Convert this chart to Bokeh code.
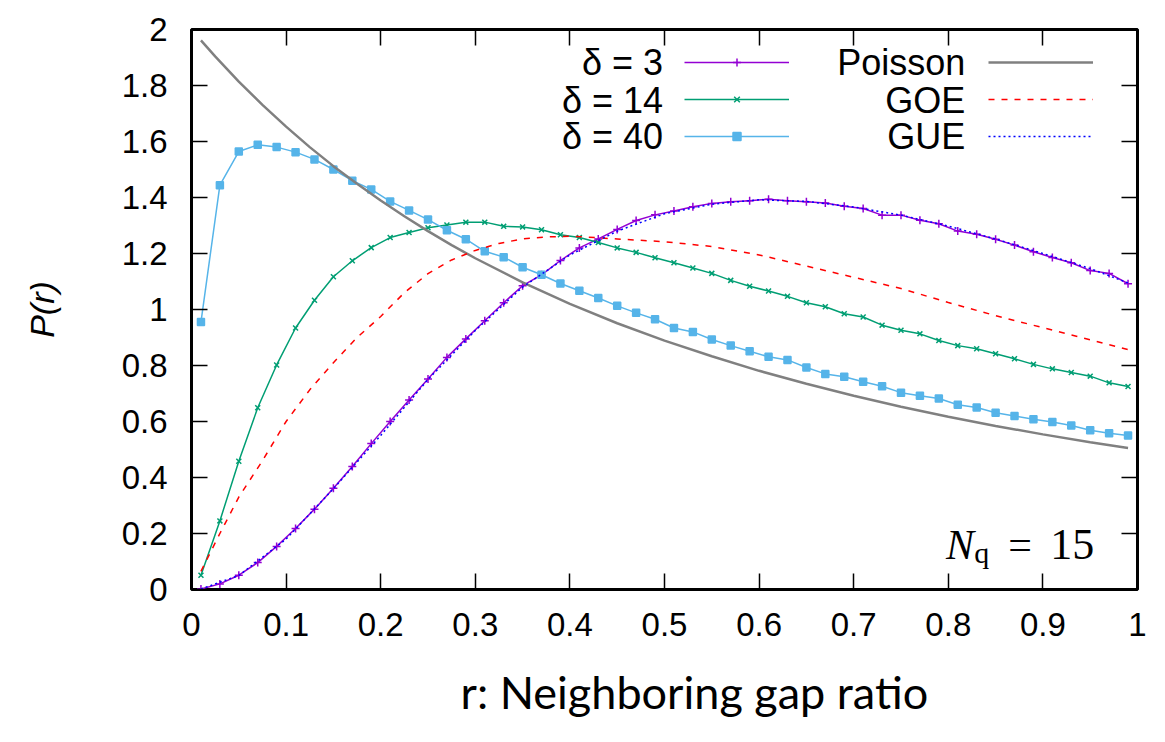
from bokeh.plotting import figure
from bokeh.models import (Range1d, FixedTicker, CustomJSTickFormatter, LinearAxis,
                          Legend, LegendItem, Label, Title)
from bokeh.embed import file_html
from bokeh.resources import INLINE

# ---------------- data ----------------
r_data = [0.01, 0.03, 0.05, 0.07, 0.09, 0.11, 0.13, 0.15, 0.17, 0.19,
          0.21, 0.23, 0.25, 0.27, 0.29, 0.31, 0.33, 0.35, 0.37, 0.39,
          0.41, 0.43, 0.45, 0.47, 0.49, 0.51, 0.53, 0.55, 0.57, 0.59,
          0.61, 0.63, 0.65, 0.67, 0.69, 0.71, 0.73, 0.75, 0.77, 0.79,
          0.81, 0.83, 0.85, 0.87, 0.89, 0.91, 0.93, 0.95, 0.97, 0.99]

delta3 = [0.002, 0.020, 0.051, 0.096, 0.154, 0.218, 0.287, 0.362, 0.439, 0.521,
          0.600, 0.677, 0.752, 0.829, 0.895, 0.960, 1.024, 1.085, 1.124, 1.175,
          1.220, 1.252, 1.286, 1.318, 1.338, 1.352, 1.367, 1.379, 1.385, 1.388,
          1.394, 1.388, 1.385, 1.380, 1.369, 1.361, 1.337, 1.337, 1.319, 1.306,
          1.280, 1.269, 1.251, 1.230, 1.206, 1.186, 1.167, 1.139, 1.129, 1.092]

delta14 = [0.051, 0.245, 0.458, 0.649, 0.802, 0.934, 1.033, 1.117, 1.174, 1.221,
           1.257, 1.275, 1.292, 1.302, 1.312, 1.312, 1.297, 1.295, 1.285, 1.267,
           1.257, 1.239, 1.220, 1.204, 1.185, 1.167, 1.148, 1.129, 1.104, 1.083,
           1.066, 1.047, 1.024, 1.010, 0.985, 0.973, 0.944, 0.926, 0.913, 0.889,
           0.871, 0.860, 0.842, 0.824, 0.804, 0.788, 0.775, 0.762, 0.738, 0.725]

delta40 = [0.955, 1.444, 1.564, 1.588, 1.580, 1.562, 1.536, 1.500, 1.460, 1.429,
           1.386, 1.354, 1.321, 1.283, 1.251, 1.208, 1.187, 1.151, 1.124, 1.093,
           1.067, 1.041, 1.013, 0.988, 0.965, 0.934, 0.920, 0.893, 0.871, 0.851,
           0.831, 0.820, 0.793, 0.770, 0.760, 0.742, 0.726, 0.703, 0.692, 0.682,
           0.660, 0.650, 0.631, 0.620, 0.608, 0.598, 0.586, 0.569, 0.558, 0.550]

r_poisson = [0.01, 0.025, 0.05, 0.075, 0.10, 0.125, 0.15, 0.175, 0.20, 0.225, 0.25,
             0.275, 0.30, 0.35, 0.40, 0.45, 0.50, 0.55, 0.60, 0.65, 0.70, 0.75,
             0.80, 0.85, 0.90, 0.95, 0.99]
poisson = [1.961, 1.904, 1.814, 1.731, 1.653, 1.580, 1.512, 1.449, 1.389, 1.333, 1.280,
           1.230, 1.183, 1.097, 1.020, 0.951, 0.889, 0.833, 0.781, 0.735, 0.692, 0.653,
           0.617, 0.584, 0.554, 0.526, 0.505]

r_goe = [0.01, 0.03, 0.05, 0.075, 0.10, 0.125, 0.15, 0.175, 0.20, 0.225, 0.25,
         0.275, 0.30, 0.325, 0.35, 0.375, 0.40, 0.45, 0.50, 0.55, 0.60, 0.65, 0.70,
         0.75, 0.80, 0.85, 0.90, 0.95, 0.99]
goe = [0.065, 0.200, 0.330, 0.460, 0.600, 0.713, 0.810, 0.900, 0.975, 1.060, 1.128,
       1.177, 1.211, 1.236, 1.252, 1.259, 1.262, 1.252, 1.242, 1.225, 1.195, 1.155,
       1.115, 1.075, 1.025, 0.978, 0.935, 0.892, 0.857]

r_gue = [0.01, 0.05, 0.10, 0.15, 0.20, 0.25, 0.30, 0.35, 0.40, 0.45, 0.50,
         0.55, 0.60, 0.65, 0.70, 0.75, 0.80, 0.85, 0.90, 0.95, 0.99]
gue = [0.002, 0.050, 0.180, 0.360, 0.550, 0.750, 0.925, 1.080, 1.195, 1.280, 1.342,
       1.376, 1.392, 1.386, 1.366, 1.337, 1.298, 1.252, 1.200, 1.146, 1.095]

x_ticks = [0, 0.1, 0.2, 0.3, 0.4, 0.5, 0.6, 0.7, 0.8, 0.9, 1]
y_ticks = [0, 0.2, 0.4, 0.6, 0.8, 1, 1.2, 1.4, 1.6, 1.8, 2]

series_labels = ["\u03b4 = 3", "\u03b4 = 14", "\u03b4 = 40"]
curve_labels = ["Poisson", "GOE", "GUE"]

# ---------------- figure ----------------
p = figure(width=1165, height=742, output_backend="svg", toolbar_location=None,
           x_range=Range1d(0, 1), y_range=Range1d(0, 2),
           min_border_left=191, min_border_right=28, min_border_top=29,
           min_border_bottom=152)
p.grid.visible = False
p.background_fill_color = "white"
p.border_fill_color = "white"
p.outline_line_color = "black"
p.outline_line_width = 3

TICK_FONT = "Liberation Sans"
SERIF = "Liberation Serif"
fmt = CustomJSTickFormatter(code="return String(Number(tick.toFixed(1)));")
blank = CustomJSTickFormatter(code="return '';")

for ax, ticks in ((p.xaxis[0], x_ticks), (p.yaxis[0], y_ticks)):
    ax.ticker = FixedTicker(ticks=ticks, minor_ticks=[])
    ax.formatter = fmt
    ax.axis_line_color = None
    ax.major_tick_in = 16
    ax.major_tick_out = 0
    ax.major_tick_line_width = 1.5
    ax.major_tick_line_color = "black"
    ax.minor_tick_line_color = None
    ax.major_label_text_font = TICK_FONT
    ax.major_label_text_font_size = "33px"
    ax.major_label_text_color = "black"

p.xaxis.major_label_standoff = 23
p.yaxis.major_label_standoff = 24
p.yaxis.axis_label = "P(r)"
p.yaxis.axis_label_text_font = TICK_FONT
p.yaxis.axis_label_text_font_size = "34px"
p.yaxis.axis_label_text_font_style = "italic"
p.yaxis.axis_label_text_color = "black"
p.yaxis.axis_label_standoff = 58

for loc, ticks in (("above", x_ticks), ("right", y_ticks)):
    ax = LinearAxis(ticker=FixedTicker(ticks=ticks, minor_ticks=[]), formatter=blank,
                    axis_line_color=None, major_tick_in=16, major_tick_out=0,
                    major_tick_line_width=1.5, major_tick_line_color="black",
                    minor_tick_line_color=None, major_label_text_font_size="1px",
                    major_label_standoff=0)
    p.add_layout(ax, loc)

# x-axis title, aligned as in the reference (left edge about 270 px right of the frame's left)
xtitle = Title(text="r: Neighboring gap ratio", align="left", offset=269, standoff=48,
               text_font="Lato", text_font_size="45px", text_font_style="normal",
               text_color="black")
p.add_layout(xtitle, "below")

# ---------------- glyphs ----------------
l3 = p.line(r_data, delta3, line_color="#9400D3", line_width=1.5)
s3 = p.scatter(r_data, delta3, marker="cross", size=8, line_color="#9400D3", line_width=1.5)
l14 = p.line(r_data, delta14, line_color="#009E73", line_width=1.5)
s14 = p.scatter(r_data, delta14, marker="x", size=7, line_color="#009E73", line_width=1.5)
l40 = p.line(r_data, delta40, line_color="#56B4E9", line_width=1.5)
s40 = p.scatter(r_data, delta40, marker="square_x", size=7, line_color="#56B4E9",
                fill_color="#56B4E9", line_width=1.5)

lp = p.line(r_poisson, poisson, line_color="#808080", line_width=2.5)
lgoe = p.line(r_goe, goe, line_color="#FF0000", line_width=1.5, line_dash="6 7")
lgue = p.line(r_gue, gue, line_color="#0000FF", line_width=1.5, line_dash="2 3")

# ---------------- legend (gnuplot style: text left, sample right) ----------------
def make_legend(items, x0):
    return Legend(items=items, location=(x0, 443), orientation="vertical",
                  glyph_width=105, glyph_height=20, spacing=17, padding=0, margin=0,
                  label_standoff=0, label_width=0, label_height=20,
                  label_text_font_size="1px", border_line_color=None,
                  background_fill_alpha=0)

leg1 = make_legend([LegendItem(label=" ", renderers=[l3, s3]),
                    LegendItem(label=" ", renderers=[l14, s14]),
                    LegendItem(label=" ", renderers=[l40, s40])], 493)
leg2 = make_legend([LegendItem(label=" ", renderers=[lp]),
                    LegendItem(label=" ", renderers=[lgoe]),
                    LegendItem(label=" ", renderers=[lgue])], 797)
p.add_layout(leg1)
p.add_layout(leg2)

row_y = [1.882, 1.748, 1.617]
for txt, yy in zip(series_labels, row_y):
    p.add_layout(Label(x=0.4985, y=yy, text=txt, text_align="right", text_baseline="middle",
                       text_font=TICK_FONT, text_font_size="36px", text_color="black"))
for txt, yy in zip(curve_labels, row_y):
    p.add_layout(Label(x=0.8179, y=yy, text=txt, text_align="right", text_baseline="middle",
                       text_font=TICK_FONT, text_font_size="36px", text_color="black"))

# N_q = 15
p.add_layout(Label(x=0.7977, y=0.1607, text="N", text_align="left", text_baseline="alphabetic",
                   text_font=SERIF, text_font_style="italic", text_font_size="42px",
                   text_color="black"))
p.add_layout(Label(x=0.8274, y=0.132, text="q", text_align="left", text_baseline="alphabetic",
                   text_font=SERIF, text_font_size="30px", text_color="black"))
p.add_layout(Label(x=0.876, y=0.1607, text="=", text_align="center", text_baseline="alphabetic",
                   text_font=SERIF, text_font_size="42px", text_color="black"))
p.add_layout(Label(x=0.9542, y=0.1607, text="15", text_align="right", text_baseline="alphabetic",
                   text_font=SERIF, text_font_size="44px", text_color="black"))

open("out.html", "w").write(file_html(p, INLINE))
